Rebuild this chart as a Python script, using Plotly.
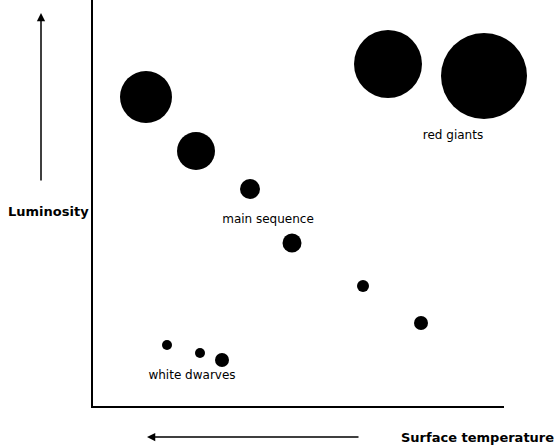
import plotly.graph_objects as go

# ---- data (chart units: horizontal = position across, vertical = position down; no ticks shown) ----
star_x = [146, 196, 250, 292, 363, 421, 167, 200, 222, 388, 484]
star_y = [97, 151, 189, 243, 286, 323, 345, 353, 360, 64, 76]
star_size = [52, 38, 20, 19, 12, 14, 10, 10, 14, 68, 86]

group_labels = ["main sequence", "white dwarves", "red giants"]
label_x = [268, 192, 453]
label_y = [220, 376, 136]

X0, X1 = 93, 504
Y0, Y1 = 406, 0

def px(x):
    return (x - X0) / (X1 - X0)

def py(y):
    return (Y0 - y) / (Y0 - Y1)

fig = go.Figure()
fig.add_trace(go.Scatter(
    x=star_x, y=star_y, mode="markers",
    marker=dict(size=star_size, color="black", opacity=1, line=dict(width=0)),
    cliponaxis=False, hoverinfo="skip", showlegend=False,
))
fig.add_trace(go.Scatter(
    x=label_x, y=label_y, mode="text", text=group_labels,
    textfont=dict(family="DejaVu Sans", size=12, color="black"),
    cliponaxis=False, hoverinfo="skip", showlegend=False,
))

annotations = [
    dict(xref="paper", yref="paper", x=px(41), y=py(13), ax=0, ay=169,
         axref="pixel", ayref="pixel", text="", showarrow=True,
         arrowhead=2, arrowsize=1.1, arrowwidth=1.5, arrowcolor="black"),
    dict(xref="paper", yref="paper", x=px(147), y=py(437), ax=213, ay=0,
         axref="pixel", ayref="pixel", text="", showarrow=True,
         arrowhead=2, arrowsize=1.1, arrowwidth=1.5, arrowcolor="black"),
    dict(xref="paper", yref="paper", x=px(48), y=py(211), text="<b>Luminosity</b>",
         showarrow=False, xanchor="center", yanchor="middle",
         font=dict(family="DejaVu Sans", size=13, color="black")),
    dict(xref="paper", yref="paper", x=px(477), y=py(437), text="<b>Surface temperature</b>",
         showarrow=False, xanchor="center", yanchor="middle",
         font=dict(family="DejaVu Sans", size=13, color="black")),
]

fig.update_layout(
    width=554, height=445,
    margin=dict(l=X0, r=554 - X1, t=Y1, b=445 - Y0, pad=0),
    paper_bgcolor="white", plot_bgcolor="white",
    xaxis=dict(range=[X0, X1], showline=True, linecolor="black", linewidth=1.5,
               showgrid=False, zeroline=False, showticklabels=False, ticks=""),
    yaxis=dict(range=[Y0, Y1], showline=True, linecolor="black", linewidth=1.5,
               showgrid=False, zeroline=False, showticklabels=False, ticks=""),
    annotations=annotations,
)

fig.write_html("out.html", config={"displayModeBar": False},
               post_script="document.body.style.margin='0';")
